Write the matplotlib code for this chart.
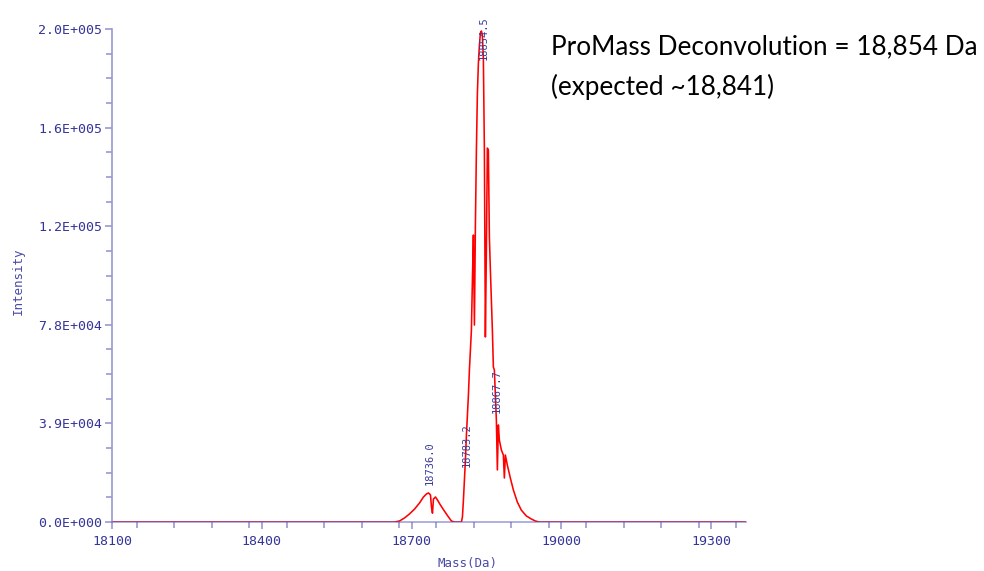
import numpy as np
import matplotlib
matplotlib.use("Agg")
import matplotlib.pyplot as plt
from matplotlib.ticker import MultipleLocator, FixedLocator

# deconvoluted spectrum
mass = [18100, 18666, 18676, 18686, 18696, 18706, 18716, 18724, 18730, 18734,
        18738, 18740, 18742, 18744, 18748, 18752, 18758, 18766, 18774, 18780,
        18786, 18800, 18802, 18804, 18806, 18808, 18810, 18812, 18814, 18816,
        18818, 18820, 18822, 18824, 18826, 18828, 18830, 18832, 18834, 18836,
        18838, 18840, 18842, 18844, 18846, 18848, 18850, 18852, 18854, 18856,
        18858, 18860, 18862, 18864, 18866, 18868, 18870, 18872, 18874, 18876,
        18880, 18884, 18886, 18888, 18892, 18898, 18904, 18912, 18920, 18930,
        18940, 18948, 18956, 19370]
intensity = [0, 0, 400, 1600, 3200, 5100, 7500, 9900, 11100, 11500,
             10700, 5900, 3500, 9100, 9900, 8700, 6700, 4300, 2000, 400,
             0, 0, 2000, 8700, 16600, 24500, 34400, 42300, 50200, 60100,
             68000, 75900, 95700, 113500, 77900, 117500, 147000, 169700, 181500, 188600,
             193400, 194200, 192600, 182700, 147000, 73200, 107600, 147900, 147000, 112700,
             99700, 87800, 75900, 61300, 60100, 50200, 40300, 20600, 38400, 32400,
             28500, 26500, 17400, 26500, 22500, 17400, 12700, 7900, 4700, 2400,
             1200, 400, 0, 0]

peak_labels = ["18736.0", "18783.2", "18867.7", "18854.5"]
peak_label_x = [18736, 18810, 18870, 18844]
peak_label_y = [14600, 21750, 43100, 182700]

yticks = [0, 39000, 78000, 117000, 156000, 195000]
ytick_labels = ["0.0E+000", "3.9E+004", "7.8E+004", "1.2E+005", "1.6E+005", "2.0E+005"]
xticks = [18100, 18400, 18700, 19000, 19300]

axis_col = "#9a9ad0"
text_col = "#34349a"
mono = "DejaVu Sans Mono"

fig = plt.figure(figsize=(9.84, 5.71), dpi=100)
ax = fig.add_axes([0.1138, 0.0858, 0.6443, 0.8634])

ax.plot(mass, intensity, color="#ff0000", lw=1.15, zorder=2)

ax.set_xlim(18100, 19370)
ax.set_ylim(0, 195000)

for s in ["top", "right"]:
    ax.spines[s].set_visible(False)
ax.spines["left"].set_color(axis_col)
ax.spines["bottom"].set_color((0.35, 0.35, 0.75, 0.55))
ax.spines["bottom"].set_zorder(3)
ax.spines["left"].set_linewidth(1.2)
ax.spines["bottom"].set_linewidth(1.2)

ax.yaxis.set_major_locator(FixedLocator(yticks))
ax.set_yticklabels(ytick_labels)
ax.yaxis.set_minor_locator(MultipleLocator(9750))
ax.xaxis.set_major_locator(FixedLocator(xticks))
ax.xaxis.set_minor_locator(MultipleLocator(75))

ax.tick_params(which="both", color=axis_col, width=1.2, direction="out")
ax.tick_params(which="major", length=5)
ax.tick_params(which="minor", length=4)
ax.tick_params(axis="y", which="major", pad=2)
ax.tick_params(axis="x", which="major", pad=4)
for lab in ax.get_xticklabels() + ax.get_yticklabels():
    lab.set_fontfamily(mono)
    lab.set_fontsize(9.5)
    lab.set_color(text_col)

for t, x, y in zip(peak_labels, peak_label_x, peak_label_y):
    ax.text(x, y, t, rotation=90, ha="center", va="bottom", fontsize=7.5,
            family=mono, color="#3a3a9a", clip_on=False, zorder=4)

fig.text(467 / 984, 1 - 563 / 571, "Mass(Da)", ha="center", va="center",
         family=mono, fontsize=9, color="#4a4aa8")
fig.text(18 / 984, 1 - 281 / 571, "Intensity", ha="center", va="center",
         rotation=90, family=mono, fontsize=9, color="#4a4aa8")

fig.text(551 / 984, 1 - 54 / 571, "ProMass Deconvolution = 18,854 Da",
         ha="left", va="baseline", family="Lato", fontsize=18.8, color="black")
fig.text(551 / 984, 1 - 95 / 571, "(expected ~18,841)",
         ha="left", va="baseline", family="Lato", fontsize=18.8, color="black")

fig.savefig("out.png", dpi=100)
